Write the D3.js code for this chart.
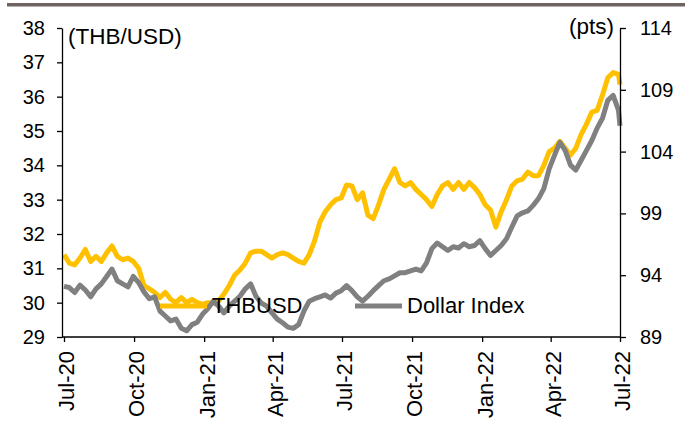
<!DOCTYPE html>
<html>
<head>
<meta charset="utf-8">
<script src="https://cdn.jsdelivr.net/npm/d3@7"></script>
<style>
  body { margin: 0; background: #fff; }
  svg { font-family: "Liberation Sans", Arial, sans-serif; }
  .axis path, .axis line { stroke: #000; stroke-width: 1.3; }
  .axis text { fill: #000; }
</style>
</head>
<body>
<svg id="chart" width="685" height="430"></svg>
<script>
// weekly observations (Wednesdays), Jul-20 to Jul-22
var dates = [
  "2020-07-01","2020-07-08","2020-07-15","2020-07-22","2020-07-29","2020-08-05","2020-08-12","2020-08-19","2020-08-26",
  "2020-09-02","2020-09-09","2020-09-16","2020-09-23","2020-09-30","2020-10-07","2020-10-14","2020-10-21","2020-10-28",
  "2020-11-04","2020-11-11","2020-11-18","2020-11-25","2020-12-02","2020-12-09","2020-12-16","2020-12-23","2020-12-30",
  "2021-01-06","2021-01-13","2021-01-20","2021-01-27","2021-02-03","2021-02-10","2021-02-17","2021-02-24","2021-03-03",
  "2021-03-10","2021-03-17","2021-03-24","2021-03-31","2021-04-07","2021-04-14","2021-04-21","2021-04-28","2021-05-05",
  "2021-05-12","2021-05-19","2021-05-26","2021-06-02","2021-06-09","2021-06-16","2021-06-23","2021-06-30","2021-07-07",
  "2021-07-14","2021-07-21","2021-07-28","2021-08-04","2021-08-11","2021-08-18","2021-08-25","2021-09-01","2021-09-08",
  "2021-09-15","2021-09-22","2021-09-29","2021-10-06","2021-10-13","2021-10-20","2021-10-27","2021-11-03","2021-11-10",
  "2021-11-17","2021-11-24","2021-12-01","2021-12-08","2021-12-15","2021-12-22","2021-12-29","2022-01-05","2022-01-12",
  "2022-01-19","2022-01-26","2022-02-02","2022-02-09","2022-02-16","2022-02-23","2022-03-02","2022-03-09","2022-03-16",
  "2022-03-23","2022-03-30","2022-04-06","2022-04-13","2022-04-20","2022-04-27","2022-05-04","2022-05-11","2022-05-18",
  "2022-05-25","2022-06-01","2022-06-08","2022-06-15","2022-06-22","2022-06-29","2022-07-01"
];

var thbusd = [
  31.4, 31.15, 31.1, 31.3, 31.55, 31.2, 31.35, 31.2, 31.45,
  31.65, 31.35, 31.25, 31.3, 31.2, 31.0, 30.5, 30.4, 30.3,
  30.15, 30.3, 30.1, 30.0, 30.15, 30.0, 30.1, 30.0, 29.95,
  30.0, 29.98, 30.05, 30.25, 30.5, 30.8, 30.95, 31.15, 31.45,
  31.5, 31.5, 31.4, 31.3, 31.4, 31.45, 31.4, 31.3, 31.2,
  31.15, 31.4, 31.8, 32.35, 32.65, 32.85, 33.0, 33.05, 33.43,
  33.4, 33.0, 33.2, 32.55, 32.45, 32.85, 33.3, 33.6, 33.9,
  33.5, 33.4, 33.5, 33.3, 33.15, 33.0, 32.8, 33.15, 33.4,
  33.5, 33.3, 33.5, 33.3, 33.5, 33.35, 33.15, 32.85, 32.7,
  32.2, 32.65, 33.0, 33.4, 33.55, 33.6, 33.8, 33.7, 33.7,
  34.0, 34.4, 34.5, 34.7, 34.5, 34.3, 34.5, 34.9, 35.2,
  35.55, 35.6, 36.05, 36.55, 36.7, 36.65, 36.35
];

var dollarIndex = [
  93.1, 93.0, 92.6, 93.2, 92.8, 92.25, 92.9, 93.3, 93.9,
  94.5, 93.55, 93.3, 93.05, 93.9, 93.4, 92.65, 92.1, 92.25,
  91.1, 90.7, 90.3, 90.45, 89.7, 89.5, 90.0, 90.2, 90.85,
  91.3, 91.9, 91.5, 90.95, 91.5, 91.9, 92.3, 92.9, 93.3,
  92.3, 91.75, 91.5, 90.95, 90.45, 90.15, 89.8, 89.7, 90.0,
  91.1, 91.9, 92.1, 92.25, 92.4, 92.15, 92.55, 92.75, 93.15,
  92.75, 92.25, 91.9, 92.3, 92.75, 93.15, 93.55, 93.7, 93.95,
  94.2, 94.2, 94.35, 94.5, 94.35, 95.0, 96.15, 96.6, 96.3,
  96.0, 96.3, 96.2, 96.55, 96.3, 96.4, 96.8, 96.15, 95.6,
  96.0, 96.4, 96.95, 97.9, 98.8, 99.05, 99.2, 99.65, 100.2,
  101.0, 102.6, 103.7, 104.75, 104.1, 102.9, 102.5, 103.3, 104.1,
  104.9, 105.9, 106.7, 108.15, 108.55, 107.35, 106.1
];

var leftTicks = [29, 30, 31, 32, 33, 34, 35, 36, 37, 38];
var rightTicks = [89, 94, 99, 104, 109, 114];
var monthTicks = ["2020-07-01","2020-10-01","2021-01-01","2021-04-01","2021-07-01",
                  "2021-10-01","2022-01-01","2022-04-01","2022-07-01"];

var parseDate = d3.timeParse("%Y-%m-%d");
var svg = d3.select("#chart");

var margin = {top: 28, right: 65, bottom: 93, left: 62},
    width = 685 - margin.left - margin.right,
    height = 430 - margin.top - margin.bottom;

// grey band along the top
svg.append("rect")
    .attr("x", 7).attr("y", 3)
    .attr("width", 678).attr("height", 3.5)
    .attr("fill", "#6f6461");

var g = svg.append("g")
    .attr("transform", "translate(" + margin.left + "," + margin.top + ")");

var x = d3.scaleTime()
    .domain([parseDate("2020-07-01"), parseDate("2022-07-01")])
    .range([2, width]);
var yL = d3.scaleLinear().domain([29, 38]).range([height, 0]);
var yR = d3.scaleLinear().domain([89, 114]).range([height, 0]);

var thbLine = d3.line()
    .x(function(d, i) { return x(parseDate(dates[i])); })
    .y(function(d) { return yL(d); });
var dxyLine = d3.line()
    .x(function(d, i) { return x(parseDate(dates[i])); })
    .y(function(d) { return yR(d); });

g.append("path")
    .datum(thbusd)
    .attr("d", thbLine)
    .attr("fill", "none")
    .attr("stroke", "#ffc000")
    .attr("stroke-width", 5)
    .attr("stroke-linejoin", "round");

g.append("path")
    .datum(dollarIndex)
    .attr("d", dxyLine)
    .attr("fill", "none")
    .attr("stroke", "#808080")
    .attr("stroke-width", 5)
    .attr("stroke-linejoin", "round");

// axes
var xAxis = g.append("g")
    .attr("class", "axis")
    .attr("transform", "translate(0," + height + ")")
    .call(d3.axisBottom(x)
      .tickValues(monthTicks.map(parseDate))
      .tickFormat(d3.timeFormat("%b-%y"))
      .tickSize(5).tickSizeOuter(0));
xAxis.select(".domain").attr("d", "M0,0H" + width);
xAxis.selectAll("text")
    .attr("font-size", 22)
    .attr("transform", "rotate(-90)")
    .attr("text-anchor", "end")
    .attr("x", -14)
    .attr("y", 0)
    .attr("dy", "0.45em");

g.append("g")
    .attr("class", "axis")
    .call(d3.axisLeft(yL).tickValues(leftTicks).tickSize(5).tickSizeOuter(0).tickPadding(12))
    .selectAll("text").attr("font-size", 20);

g.append("g")
    .attr("class", "axis")
    .attr("transform", "translate(" + width + ",0)")
    .call(d3.axisRight(yR).tickValues(rightTicks).tickSize(6).tickSizeOuter(0).tickPadding(14))
    .selectAll("text").attr("font-size", 20);

// unit labels
svg.append("text").attr("x", 68).attr("y", 44)
    .attr("font-size", 22.5).text("(THB/USD)");
svg.append("text").attr("x", 614).attr("y", 34)
    .attr("text-anchor", "end")
    .attr("font-size", 22.5).text("(pts)");

// legend
var legend = [
  {name: "THBUSD", color: "#ffc000", x: 160},
  {name: "Dollar Index", color: "#808080", x: 355}
];
legend.forEach(function(l) {
  svg.append("line")
      .attr("x1", l.x).attr("x2", l.x + 47)
      .attr("y1", 306).attr("y2", 306)
      .attr("stroke", l.color).attr("stroke-width", 5);
  svg.append("text")
      .attr("x", l.x + 52).attr("y", 313)
      .attr("font-size", 22)
      .text(l.name);
});
</script>
</body>
</html>
